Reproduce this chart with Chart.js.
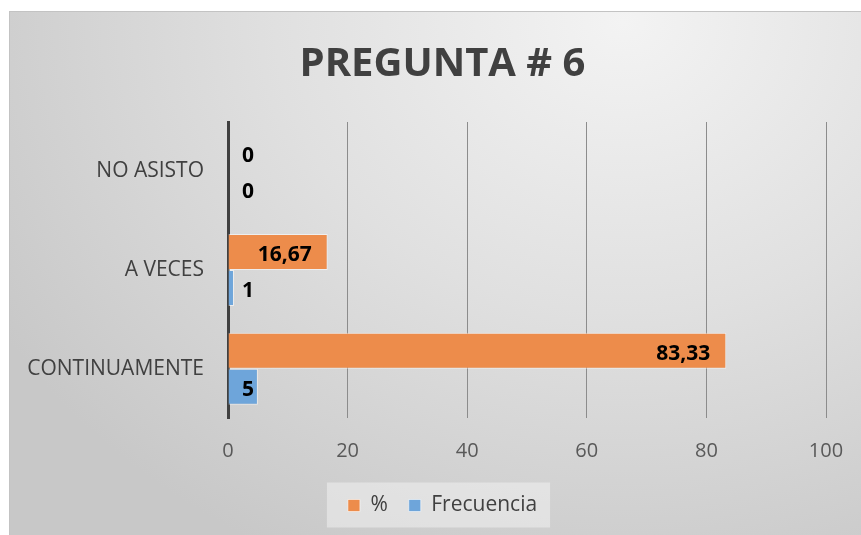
<!DOCTYPE html>
<html>
<head>
<meta charset="utf-8">
<script src="https://cdn.jsdelivr.net/npm/chart.js@4/dist/chart.umd.min.js"></script>
<style>
  body { margin: 0; background: #fff; }
  #box {
    position: absolute; left: 9px; top: 11px; width: 852px; height: 524px;
    border-left: 1px solid #c3c3c3; border-top: 1px solid #c3c3c3;
    background: radial-gradient(ellipse 85% 115% at 72% 2%, #f3f3f3 0%, #e0e0e0 48%, #c8c8c8 100%);
  }
  canvas { display: block; }
</style>
</head>
<body>
<div id="box"><canvas id="chart" width="851" height="523"></canvas></div>
<script>
const categories = ['NO ASISTO', 'A VECES', 'CONTINUAMENTE'];
const porcentaje = [0, 16.67, 83.33];
const frecuencia = [0, 1, 5];
const xTicks = [0, 20, 40, 60, 80, 100];

const FONT = '"Open Sans", sans-serif';

function fmt(v) {
    return String(v).replace('.', ',');
}

// etiquetas de datos dentro del extremo de la barra (o al lado si no caben)
const valueLabels = {
    id: 'valueLabels',
    afterDatasetsDraw(chart) {
        const ctx = chart.ctx;
        const left = chart.chartArea.left;
        ctx.save();
        ctx.font = 'bold 21px ' + FONT;
        ctx.fillStyle = '#000';
        ctx.textBaseline = 'middle';
        ctx.textAlign = 'left';
        chart.data.datasets.forEach((ds, i) => {
            chart.getDatasetMeta(i).data.forEach((bar, j) => {
                const txt = fmt(ds.data[j]);
                const w = ctx.measureText(txt).width;
                const x = Math.max(bar.x - 16 - w, left + 14);
                ctx.fillText(txt, x, bar.y + 3);
            });
        });
        ctx.restore();
    }
};

// fondo claro detrás de la leyenda
const legendBg = {
    id: 'legendBg',
    beforeDraw(chart) {
        const hb = chart.legend.legendHitBoxes;
        if (!hb || !hb.length) return;
        const x0 = Math.min(...hb.map(h => h.left)) - 21;
        const x1 = Math.max(...hb.map(h => h.left + h.width)) + 13;
        const cy = hb[0].top + hb[0].height / 2;
        const ctx = chart.ctx;
        ctx.save();
        ctx.fillStyle = 'rgba(240,240,240,0.55)';
        ctx.fillRect(x0, cy - 23, x1 - x0, 45);
        ctx.restore();
    }
};

new Chart(document.getElementById('chart'), {
    type: 'bar',
    data: {
        labels: categories,
        datasets: [
            {
                label: '%',
                data: porcentaje,
                backgroundColor: '#ed8c4b',
                borderColor: 'rgba(255,255,255,0.55)',
                borderWidth: 1
            },
            {
                label: 'Frecuencia',
                data: frecuencia,
                backgroundColor: '#6ea5da',
                borderColor: 'rgba(255,255,255,0.55)',
                borderWidth: 1
            }
        ]
    },
    options: {
        indexAxis: 'y',
        responsive: false,
        animation: false,
        events: [],
        layout: { padding: { left: 14, right: 0, top: 0, bottom: 9 } },
        datasets: {
            bar: { categoryPercentage: 0.73, barPercentage: 1 }
        },
        scales: {
            x: {
                min: 0,
                max: 100,
                afterBuildTicks(scale) {
                    scale.ticks = xTicks.map(v => ({ value: v }));
                },
                grid: { color: '#8c8c8c', lineWidth: 1, drawTicks: false },
                border: { display: false },
                ticks: {
                    color: '#595959',
                    padding: 21,
                    font: { family: FONT, size: 20 }
                },
                afterFit(scale) {
                    scale.height = 56;
                    scale.paddingRight = 35;
                }
            },
            y: {
                grid: { display: false, drawTicks: false },
                border: { display: true, color: '#404040', width: 3 },
                ticks: {
                    color: '#404040',
                    padding: 24,
                    font: { family: FONT, size: 21 }
                },
                afterFit(scale) { scale.width = 204; }
            }
        },
        plugins: {
            title: {
                display: true,
                text: 'PREGUNTA # 6',
                color: '#404040',
                font: { family: FONT, size: 40, weight: 'bold' },
                padding: { top: 29, bottom: 33 }
            },
            legend: {
                position: 'bottom',
                labels: {
                    color: '#404040',
                    font: { family: FONT, size: 21 },
                    boxWidth: 12,
                    boxHeight: 12,
                    padding: 21
                }
            },
            tooltip: { enabled: false }
        }
    },
    plugins: [legendBg, valueLabels]
});
</script>
</body>
</html>
